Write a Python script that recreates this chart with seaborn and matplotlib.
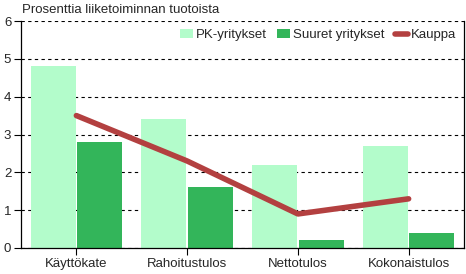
import matplotlib
matplotlib.use("Agg")
import matplotlib.pyplot as plt
import seaborn as sns
import pandas as pd
import numpy as np

categories = ["Käyttökate", "Rahoitustulos", "Nettotulos", "Kokonaistulos"]
pk = [4.8, 3.4, 2.2, 2.7]
suuret = [2.8, 1.6, 0.2, 0.4]
kauppa = [3.5, 2.3, 0.9, 1.3]
series_names = ["PK-yritykset", "Suuret yritykset", "Kauppa"]
yticks = [0, 1, 2, 3, 4, 5, 6]

sns.set_theme(style="white")
plt.rcParams['font.family'] = ['Liberation Sans', 'DejaVu Sans']

df = pd.DataFrame({
    "cat": categories * 2,
    "val": pk + suuret,
    "series": [series_names[0]] * 4 + [series_names[1]] * 4,
})

fig = plt.figure(figsize=(4.66, 2.74), dpi=100)
ax = fig.add_axes([21/466, 1 - 248/274, 443/466, 227/274])

sns.barplot(data=df, x="cat", y="val", hue="series",
            palette=["#b3fccb", "#33b55a"], width=0.84, gap=0.03,
            saturation=1, ax=ax, legend=True, zorder=2, linewidth=0)
sns.lineplot(x=np.arange(len(categories)), y=kauppa, color="#b34040",
             linewidth=4, ax=ax, label=series_names[2], zorder=3)

ax.set_xlim(-0.5, 3.5)
ax.set_ylim(0, 6)
ax.set_yticks(yticks)
ax.set_yticklabels([str(t) for t in yticks])
ax.set_xlabel("")
ax.set_ylabel("")
ax.yaxis.grid(True, linestyle=(0, (3, 3)), color="black", linewidth=0.8)
ax.set_axisbelow(True)
for s in ["left", "bottom", "right"]:
    ax.spines[s].set_visible(True)
    ax.spines[s].set_color("black")
    ax.spines[s].set_linewidth(0.9)
ax.spines["top"].set_visible(False)
ax.tick_params(axis="both", which="both", length=5, width=0.8, color="black",
               labelsize=9.5, pad=2, direction="out", left=True, bottom=True)

h, l = ax.get_legend_handles_labels()
ax.legend(h, l, loc="upper right", ncol=3, frameon=False, fontsize=9.5,
          handlelength=1.0, handletextpad=0.2, columnspacing=0.8,
          bbox_to_anchor=(1.0, 1.0), borderaxespad=0.2)

fig.text(22/466, 1 - 10/274, "Prosenttia liiketoiminnan tuotoista",
         fontsize=9.5, va="center", ha="left")

fig.savefig("out.png", dpi=100)
